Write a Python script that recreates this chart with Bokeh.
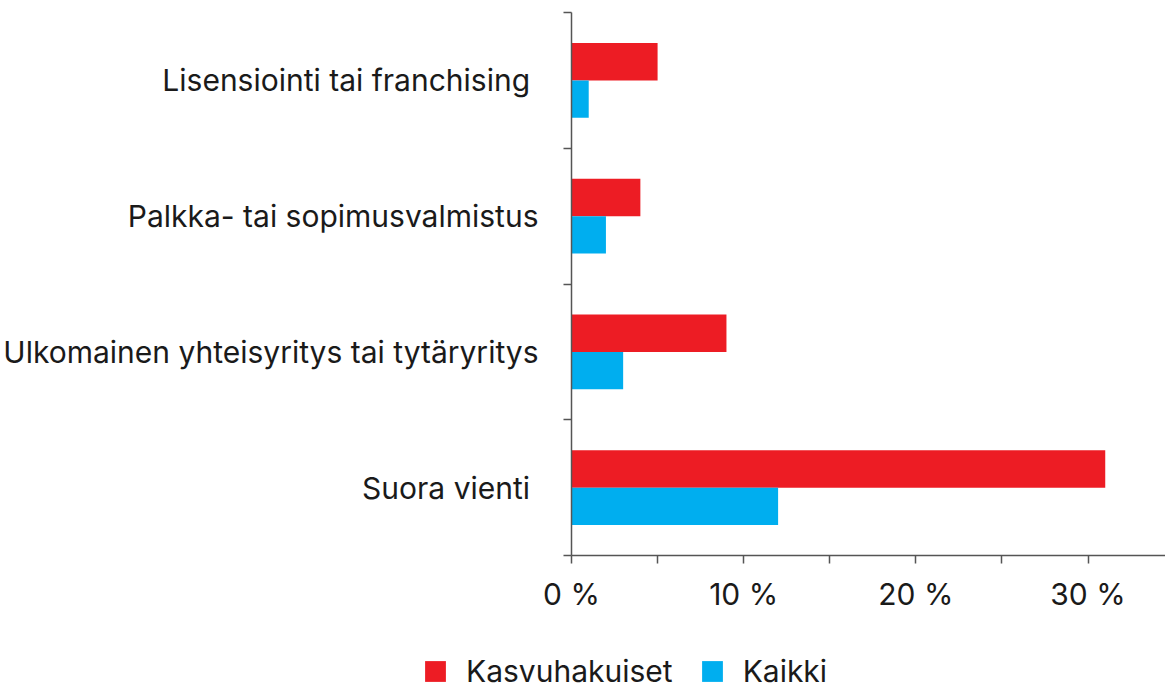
from bokeh.plotting import figure
from bokeh.layouts import column, row
from bokeh.models import ColumnDataSource, FixedTicker, Range1d, Legend, LegendItem
from bokeh.transform import dodge
from bokeh.embed import file_html
from bokeh.resources import INLINE

# Data (bottom to top); the two short labels carry a trailing space as in the source
categories = ["Suora vienti\u00a0", "Ulkomainen yhteisyritys tai tytäryritys",
              "Palkka- tai sopimusvalmistus", "Lisensiointi tai franchising\u00a0"]
kasvuhakuiset = [31, 9, 4, 5]
kaikki = [12, 3, 2, 1]
x_ticks = [0, 10, 20, 30]
x_minor = [5, 15, 25]
x_tick_labels = ["0 %", "10 %", "20 %", "30 %"]
series_names = ["Kasvuhakuiset", "Kaikki"]

RED = "#ED1C24"
BLUE = "#00AEEF"
FONT = "Inter"
FS = "30px"
TXT = "#1a1a1a"
AX = "#555555"

pos = list(range(len(categories)))
src = ColumnDataSource(dict(y=pos, cat=categories, k=kasvuhakuiset, a=kaikki))

p = figure(width=1165, height=640, output_backend="svg", toolbar_location=None,
           x_range=Range1d(0, 34.5), y_range=Range1d(-0.5, len(categories) - 0.5),
           min_border_left=570, min_border_right=0, min_border_top=12, min_border_bottom=85)
p.outline_line_color = None
p.grid.grid_line_color = None
p.background_fill_color = "white"

bh = 0.275
p.hbar(y=dodge("y", bh / 2, range=p.y_range), right="k", left=0, height=bh,
       source=src, fill_color=RED, line_color=None)
p.hbar(y=dodge("y", -bh / 2, range=p.y_range), right="a", left=0, height=bh,
       source=src, fill_color=BLUE, line_color=None)

# y axis: labels at centers, tick marks at boundaries
ya = p.yaxis[0]
ya.ticker = FixedTicker(ticks=pos, minor_ticks=[i - 0.5 for i in range(len(categories) + 1)])
ya.major_label_overrides = {i: c for i, c in zip(pos, categories)}
ya.major_tick_out = 0
ya.major_tick_in = 0
ya.minor_tick_out = 8
ya.minor_tick_in = 0
ya.minor_tick_line_color = AX
ya.minor_tick_line_width = 1.5
ya.axis_line_color = AX
ya.axis_line_width = 1.5
ya.major_label_standoff = 25
ya.major_label_text_font = FONT
ya.major_label_text_font_size = FS
ya.major_label_text_color = TXT

xa = p.xaxis[0]
xa.ticker = FixedTicker(ticks=x_ticks, minor_ticks=x_minor)
xa.major_label_overrides = {t: l for t, l in zip(x_ticks, x_tick_labels)}
xa.major_tick_out = 8
xa.major_tick_in = 0
xa.minor_tick_out = 8
xa.minor_tick_in = 0
xa.major_tick_line_color = AX
xa.minor_tick_line_color = AX
xa.major_tick_line_width = 1.5
xa.minor_tick_line_width = 1.5
xa.axis_line_color = AX
xa.axis_line_width = 1.5
xa.major_label_standoff = 12
xa.major_label_text_font = FONT
xa.major_label_text_font_size = FS
xa.major_label_text_color = TXT

# Legend in a strip below the chart (zero-size helper bars carry the legend swatches)
lg = figure(width=1165, height=48, output_backend="svg", toolbar_location=None,
            x_range=Range1d(0, 1), y_range=Range1d(0, 1),
            min_border_left=0, min_border_right=0, min_border_top=0, min_border_bottom=0)
lg.axis.visible = False
lg.grid.grid_line_color = None
lg.outline_line_color = None
helper = ColumnDataSource(dict(y=[0], r=[0]))
l1 = lg.hbar(y="y", right="r", left="r", height=0, source=helper, fill_color=RED, line_color=None)
l2 = lg.hbar(y="y", right="r", left="r", height=0, source=helper, fill_color=BLUE, line_color=None)
legend = Legend(items=[LegendItem(label=series_names[0], renderers=[l1]),
                       LegendItem(label=series_names[1], renderers=[l2])],
                orientation="horizontal", location=(422, -1),
                glyph_width=26, glyph_height=26, label_standoff=18, spacing=26,
                padding=0, margin=0, border_line_color=None, background_fill_alpha=0,
                label_text_font=FONT, label_text_font_size=FS, label_text_color=TXT,
                label_height=26)
lg.add_layout(legend, "center")

open("out.html", "w").write(file_html(column(row(p), row(lg), spacing=0), INLINE))
